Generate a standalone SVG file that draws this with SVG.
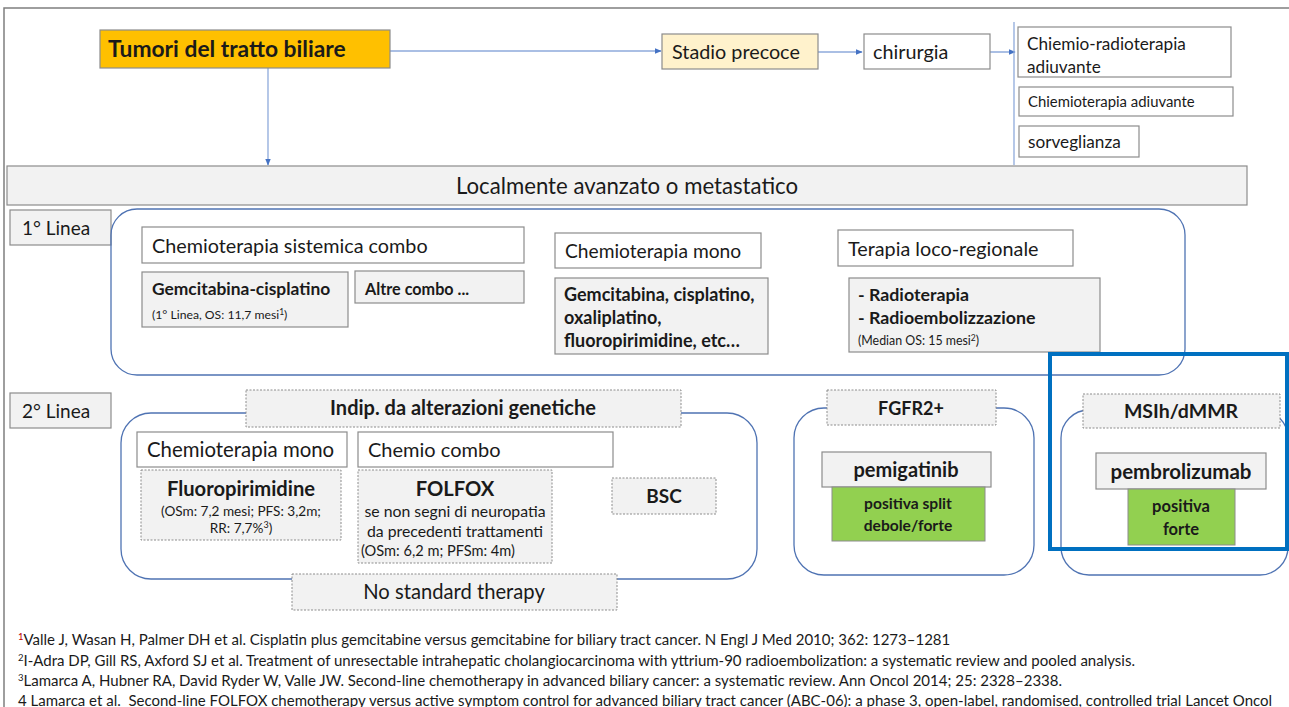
<svg xmlns="http://www.w3.org/2000/svg" width="1289" height="707" viewBox="0 0 1289 707">
  <defs>
    <marker id="arr" viewBox="0 0 10 10" refX="9" refY="5" markerWidth="7" markerHeight="7" orient="auto" markerUnits="userSpaceOnUse">
      <path d="M0,1 L10,5 L0,9 z" fill="#4472c4"/>
    </marker>
    <style>
      text { font-family: Lato, "Liberation Sans", sans-serif; fill: #1a1a1a; }
      .box { fill: #ffffff; stroke: #8c8c8c; stroke-width: 1.2; }
      .grey { fill: #f2f2f2; stroke: #8c8c8c; stroke-width: 1.2; }
      .dash { fill: #f2f2f2; stroke: #8c8c8c; stroke-width: 1; stroke-dasharray: 2 1.5; }
      .green { fill: #92d050; stroke: #8c8c8c; stroke-width: 1; }
      .cont { fill: none; stroke: #4f73b3; stroke-width: 1.3; }
      .conn { fill: none; stroke: #8eaadb; stroke-width: 1.3; }
      .b { font-weight: 700; }
      .c { text-anchor: middle; }
      .ref { font-size: 15px; }
    </style>
  </defs>

  <!-- slide frame -->
  <g id="frame">
    <path d="M4,707 L4,8 L1289,8" fill="none" stroke="#7f7f7f" stroke-width="1.5"/>
  </g>

  <!-- connectors -->
  <g id="connectors">
    <line class="conn" x1="390" y1="51" x2="661" y2="51" marker-end="url(#arr)"/>
    <line class="conn" x1="268" y1="68" x2="268" y2="165" marker-end="url(#arr)"/>
    <line class="conn" x1="818" y1="52" x2="862" y2="52" marker-end="url(#arr)"/>
    <line class="conn" x1="968" y1="52" x2="1015" y2="52" marker-end="url(#arr)"/>
    <line class="conn" x1="1014" y1="22" x2="1014" y2="165"/>
  </g>

  <g id="tumori">
    <rect x="100" y="30" width="290" height="38" fill="#ffc000" stroke="#8c8c8c" stroke-width="1.2"/>
    <text x="108" y="57" class="b" font-size="22.8">Tumori del tratto biliare</text>
  </g>
  <g id="stadio-precoce">
    <rect x="662" y="34" width="156" height="35" fill="#fff2cc" stroke="#8c8c8c" stroke-width="1.2"/>
    <text x="672" y="59" font-size="19.8">Stadio precoce</text>
  </g>
  <g id="chirurgia">
    <rect class="box" x="864" y="34" width="126" height="35"/>
    <text x="873" y="59" font-size="19.8">chirurgia</text>
  </g>
  <g id="chemio-radio-adiuvante">
    <rect class="box" x="1018" y="27" width="213" height="50"/>
    <text x="1027" y="50" font-size="17.2">Chiemio-radioterapia</text>
    <text x="1027" y="73" font-size="17.2">adiuvante</text>
  </g>
  <g id="chemio-adiuvante">
    <rect class="box" x="1019" y="87" width="214" height="29"/>
    <text x="1028" y="107" font-size="14.9">Chiemioterapia adiuvante</text>
  </g>
  <g id="sorveglianza">
    <rect class="box" x="1019" y="126" width="120" height="31"/>
    <text x="1028" y="148" font-size="17.2">sorveglianza</text>
  </g>

  <g id="localmente-avanzato">
    <rect class="grey" x="7" y="166" width="1240" height="39"/>
    <text x="627" y="194" class="c" font-size="22.2">Localmente avanzato o metastatico</text>
  </g>

  <!-- first line -->
  <g id="linea1">
    <rect class="grey" x="10" y="210" width="101" height="35"/>
    <text x="22" y="235" font-size="19">1° Linea</text>
  </g>
  <g id="linea1-container">
    <rect class="cont" x="111" y="209" width="1074" height="166" rx="26" ry="26"/>
  </g>
  <g id="chemio-sistemica-combo">
    <rect class="box" x="142" y="227" width="382" height="36"/>
    <text x="152" y="253" font-size="19.8">Chemioterapia sistemica combo</text>
  </g>
  <g id="gem-cis">
    <rect class="grey" x="142" y="272" width="206" height="55"/>
    <text x="152" y="295" class="b" font-size="17.4">Gemcitabina-cisplatino</text>
    <text x="152" y="319" font-size="12.2">(1° Linea, OS: 11,7 mesi<tspan font-size="8.5" dy="-4.5">1</tspan><tspan dy="4.5">)</tspan></text>
  </g>
  <g id="altre-combo">
    <rect class="grey" x="355" y="271" width="169" height="32"/>
    <text x="365" y="295" class="b" font-size="16.2">Altre combo ...</text>
  </g>
  <g id="chemio-mono-1">
    <rect class="box" x="555" y="233" width="206" height="35"/>
    <text x="565" y="258" font-size="19.2">Chemioterapia mono</text>
  </g>
  <g id="mono-farmaci">
    <rect class="grey" x="555" y="278" width="213" height="76"/>
    <text x="564" y="301" class="b" font-size="18">Gemcitabina, cisplatino,</text>
    <text x="564" y="324" class="b" font-size="18">oxaliplatino,</text>
    <text x="564" y="347" class="b" font-size="18">fluoropirimidine, etc…</text>
  </g>
  <g id="loco-regionale">
    <rect class="box" x="838" y="230" width="235" height="36"/>
    <text x="848" y="256" font-size="19.8">Terapia loco-regionale</text>
  </g>
  <g id="radio">
    <rect class="grey" x="849" y="278" width="251" height="74"/>
    <text x="858" y="301" class="b" font-size="17.8">- Radioterapia</text>
    <text x="858" y="324" class="b" font-size="17.8">- Radioembolizzazione</text>
    <text x="858" y="345" font-size="12.4">(Median OS: 15 mesi<tspan font-size="8.5" dy="-4.5">2</tspan><tspan dy="4.5">)</tspan></text>
  </g>

  <!-- second line -->
  <g id="linea2">
    <rect class="grey" x="10" y="393" width="101" height="35"/>
    <text x="22" y="418" font-size="19">2° Linea</text>
  </g>
  <g id="linea2-containers">
    <rect class="cont" x="121" y="413" width="636" height="166" rx="30" ry="30"/>
    <rect class="cont" x="794" y="408" width="240" height="167" rx="30" ry="30"/>
    <rect class="cont" x="1061" y="410" width="227" height="165" rx="28" ry="28"/>
  </g>
  <g id="indip">
    <rect class="dash" x="246" y="390" width="435" height="37"/>
    <text x="463" y="415" class="b c" font-size="20">Indip. da alterazioni genetiche</text>
  </g>
  <g id="chemio-mono-2">
    <rect class="box" x="137" y="432" width="210" height="35"/>
    <text x="147" y="457" font-size="20.4">Chemioterapia mono</text>
  </g>
  <g id="chemio-combo">
    <rect class="box" x="358" y="432" width="255" height="35"/>
    <text x="368" y="457" font-size="20">Chemio combo</text>
  </g>
  <g id="fluoropirimidine">
    <rect class="dash" x="141" y="470" width="200" height="70"/>
    <text x="241" y="496" class="b c" font-size="20.2">Fluoropirimidine</text>
    <text x="241" y="516" class="c" font-size="13.6">(OSm: 7,2 mesi; PFS: 3,2m;</text>
    <text x="241" y="533" class="c" font-size="13.6">RR: 7,7%<tspan font-size="9" dy="-5">3</tspan><tspan dy="5">)</tspan></text>
  </g>
  <g id="folfox">
    <rect class="dash" x="358" y="470" width="194" height="93"/>
    <text x="455" y="496" class="b c" font-size="20.2">FOLFOX</text>
    <text x="455" y="517" class="c" font-size="15.8">se non segni di neuropatia</text>
    <text x="455" y="537" class="c" font-size="15.8">da precedenti trattamenti</text>
    <text x="361" y="556" font-size="14.6">(OSm: 6,2 m; PFSm: 4m)</text>
  </g>
  <g id="bsc">
    <rect class="dash" x="612" y="478" width="104" height="36"/>
    <text x="664" y="503" class="b c" font-size="19">BSC</text>
  </g>
  <g id="no-standard">
    <rect class="dash" x="292" y="574" width="325" height="36"/>
    <text x="454" y="599" class="c" font-size="20.2">No standard therapy</text>
  </g>
  <g id="fgfr2">
    <rect class="dash" x="827" y="390" width="169" height="35"/>
    <text x="911" y="415" class="b c" font-size="18">FGFR2+</text>
  </g>
  <g id="pemigatinib">
    <rect class="grey" x="822" y="452" width="169" height="35"/>
    <text x="906" y="477" class="b c" font-size="20">pemigatinib</text>
  </g>
  <g id="pemigatinib-esito">
    <rect class="green" x="832" y="487" width="153" height="54"/>
    <text x="908" y="509" class="b c" font-size="15.6">positiva split</text>
    <text x="908" y="531" class="b c" font-size="15.6">debole/forte</text>
  </g>
  <g id="msih">
    <rect class="dash" x="1083" y="394" width="197" height="34"/>
    <text x="1181" y="418" class="b c" font-size="19.5">MSIh/dMMR</text>
  </g>
  <g id="pembrolizumab">
    <rect class="grey" x="1096" y="453" width="170" height="36"/>
    <text x="1181" y="479" class="b c" font-size="20.5">pembrolizumab</text>
  </g>
  <g id="pembrolizumab-esito">
    <rect class="green" x="1128" y="489" width="107" height="56"/>
    <text x="1181" y="512" class="b c" font-size="16.5">positiva</text>
    <text x="1181" y="535" class="b c" font-size="16.5">forte</text>
  </g>
  <g id="evidenza">
    <rect x="1050" y="354" width="237" height="195" fill="none" stroke="#0070c0" stroke-width="4"/>
  </g>

  <!-- references -->
  <g id="bibliografia">
    <text class="ref" x="18" y="645"><tspan fill="#c00000" font-size="9.5" dy="-5">1</tspan><tspan dy="5">Valle J, Wasan H, Palmer DH et al. Cisplatin plus gemcitabine versus gemcitabine for biliary tract cancer. N Engl J Med 2010; 362: 1273–1281</tspan></text>
    <text class="ref" x="18" y="666"><tspan font-size="9.5" dy="-5">2</tspan><tspan dy="5">I-Adra DP, Gill RS, Axford SJ et al. Treatment of unresectable intrahepatic cholangiocarcinoma with yttrium-90 radioembolization: a systematic review and pooled analysis.</tspan></text>
    <text class="ref" x="18" y="686"><tspan font-size="9.5" dy="-5">3</tspan><tspan dy="5">Lamarca A, Hubner RA, David Ryder W, Valle JW. Second-line chemotherapy in advanced biliary cancer: a systematic review. Ann Oncol 2014; 25: 2328–2338.</tspan></text>
    <text class="ref" x="18" y="706" font-size="15.6">4 Lamarca et al.&#160; Second-line FOLFOX chemotherapy versus active symptom control for advanced biliary tract cancer (ABC-06): a phase 3, open-label, randomised, controlled trial Lancet Oncol</text>
  </g>
</svg>
